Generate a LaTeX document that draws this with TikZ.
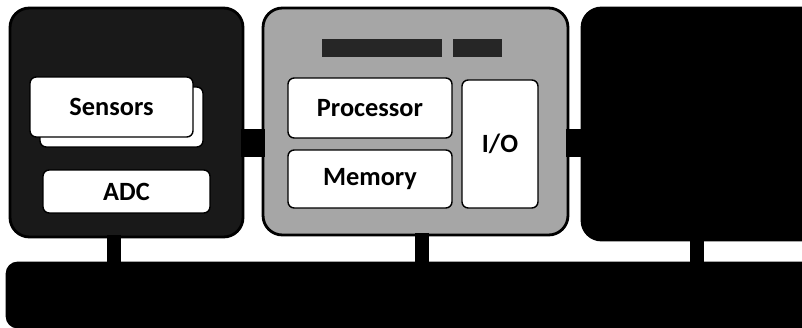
\documentclass[tikz,border=0pt]{standalone}
\usepackage{fontspec}
\setmainfont{Carlito}
\begin{document}
\begin{tikzpicture}[x=0.02cm,y=-0.02cm,
  unitbox/.style={draw=black,line width=1.6pt,rounded corners=11pt,inner sep=0pt},
  inbox/.style={draw=black,fill=white,line width=0.8pt,rounded corners=3.5pt,inner sep=0pt,font=\bfseries\fontsize{15}{17}\selectfont},
  conn/.style={draw=black,line width=16pt},
  stem/.style={draw=black,line width=8pt}]
\useasboundingbox (0,0) rectangle (802,328);
% big units
\node[unitbox,fill=black!90,minimum width=4.66cm,minimum height=4.58cm] (sense) at (126.5,122.5) {};
\node[unitbox,fill=black!35,minimum width=6.1cm,minimum height=4.54cm] (proc) at (415.5,121.5) {};
\node[unitbox,fill=black,minimum width=4.96cm,minimum height=4.64cm] (trans) at (706,124) {};
\node[unitbox,fill=black,rounded corners=6pt,minimum width=16.46cm,minimum height=1.28cm] (power) at (418.5,295) {};
% title blobs
\fill[black!85] (322,39) rectangle (442,57);
\fill[black!85] (453,39) rectangle (502,57);
% inner boxes
\node[inbox,minimum width=3.26cm,minimum height=1.2cm] (sensb) at (121.5,117) {};
\node[inbox,minimum width=3.26cm,minimum height=1.2cm] (sens) at (111.5,107) {Sensors};
\node[inbox,minimum width=3.34cm,minimum height=0.86cm] (adc) at (126.5,191.5) {ADC};
\node[inbox,minimum width=3.28cm,minimum height=1.2cm] (cpu) at (370,108) {Processor};
\node[inbox,minimum width=3.28cm,minimum height=1.16cm] (mem) at (370,179) {Memory};
\node[inbox,minimum width=1.52cm,minimum height=2.56cm] (io) at (500,144) {I/O};
% connectors
\coordinate (h1) at (0,143);
\coordinate (s1) at (114,0);
\coordinate (s2) at (422,0);
\coordinate (s3) at (697,0);
\draw[conn] ([xshift=-2pt]sense.east |- h1) -- ([xshift=2pt]proc.west |- h1);
\draw[conn] ([xshift=-2pt]proc.east |- h1) -- ([xshift=2pt]trans.west |- h1);
\draw[stem] ([yshift=2pt]sense.south -| s1) -- ([yshift=-2pt]power.north -| s1);
\draw[stem] ([yshift=2pt]proc.south -| s2) -- ([yshift=-2pt]power.north -| s2);
\draw[stem] ([yshift=2pt]trans.south -| s3) -- ([yshift=-2pt]power.north -| s3);
\end{tikzpicture}
\end{document}
